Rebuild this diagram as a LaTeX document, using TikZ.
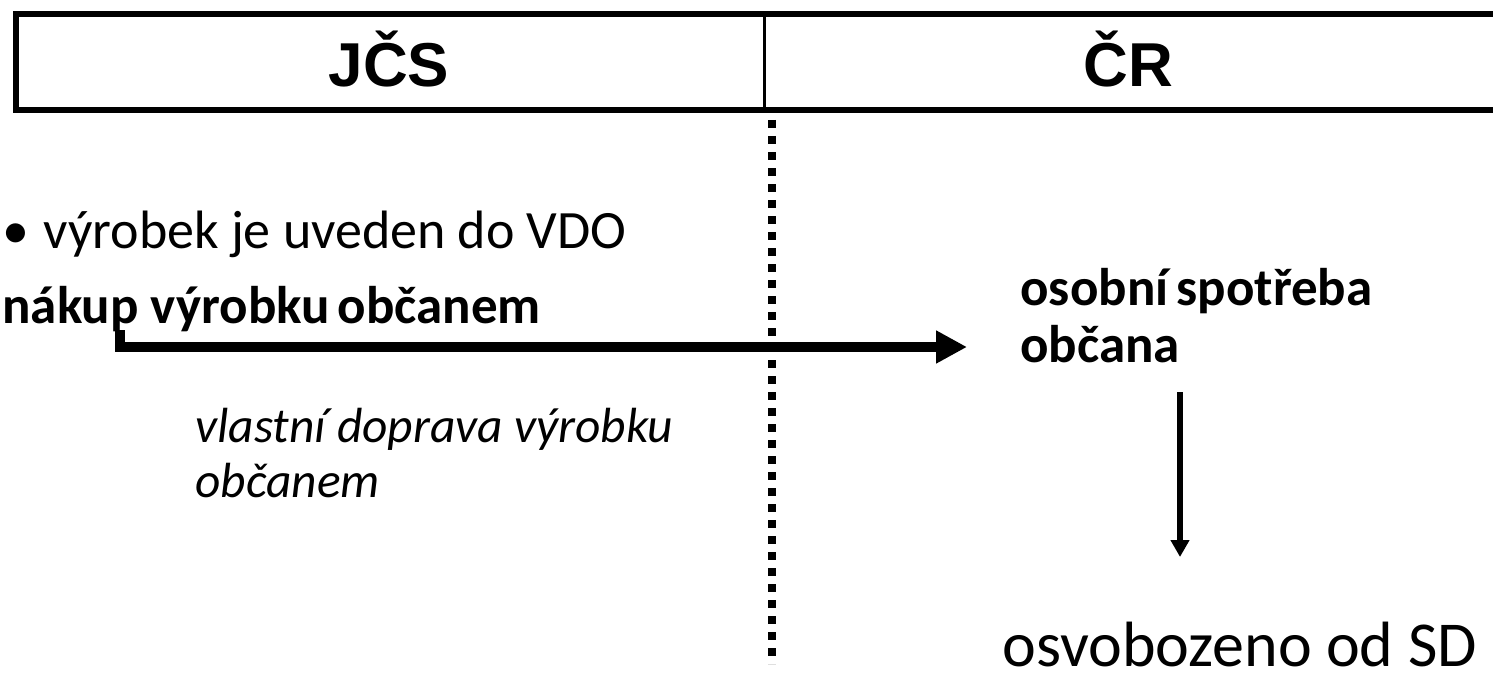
\documentclass[tikz,border=0pt]{standalone}
\usepackage{fontspec}
\setmainfont{Carlito}
\newfontfamily\headfont{Liberation Sans}
\usetikzlibrary{arrows.meta}
\begin{document}
\begin{tikzpicture}[x=0.5pt,y=-0.5pt,
  every node/.style={inner sep=0pt,anchor=base west},
  head/.style={font=\headfont\bfseries\fontsize{31}{37}\selectfont,anchor=base},
  txt/.style={font=\fontsize{27}{32}\selectfont},
  boldtxt/.style={font=\bfseries\fontsize{26.5}{32}\selectfont},
  ittxt/.style={font=\itshape\fontsize{24.7}{30}\selectfont},
  frame/.style={line width=3pt},
  dotline/.style={line width=4pt,dash pattern=on 4pt off 4pt},
  flow/.style={line width=5pt,-{Triangle[length=15.5pt,width=15.5pt]}},
  down/.style={line width=3pt,-{Triangle[length=8.5pt,width=9pt]}}]
\useasboundingbox (0,0) rectangle (1493,674);
% header box
\draw[frame] (1510,14) -- (15.5,14) -- (15.5,110) -- (1510,110);
\draw[line width=1.5pt] (764.5,14) -- (764.5,110);
\node[head] (jcs) at (389,87) {JČS};
\node[head] (cr) at (1128,87) {ČR};
% border
\draw[dotline] (772,120) -- (772,664);
% left side
\node[txt] (vdo) at (2,248) {\makebox[20.5pt][l]{•}výrobek je uveden do VDO};
\node[boldtxt] (nakup) at (2,323) {nákup výrobku\hspace{-2pt} občanem};
\node[ittxt] (doprava1) at (195,442) {vlastní doprava výrobku};
\node[ittxt] (doprava2) at (195,497) {občanem};
% right side
\node[boldtxt] (spotreba1) at (1020,305) {osobní\hspace{-2pt} spotřeba};
\node[boldtxt] (spotreba2) at (1020,362) {občana};
\node[txt,font=\fontsize{32}{38}\selectfont] (osvob) at (1002,666) {osvobozeno od SD};
% arrows
\coordinate (start) at (120,330);
\coordinate (tip) at (967,347);
\draw[flow] (start) |- (tip);
\coordinate (top) at (1180,392);
\coordinate (bottom) at (1180,557);
\draw[down] (top) -- (bottom);
\end{tikzpicture}
\end{document}
